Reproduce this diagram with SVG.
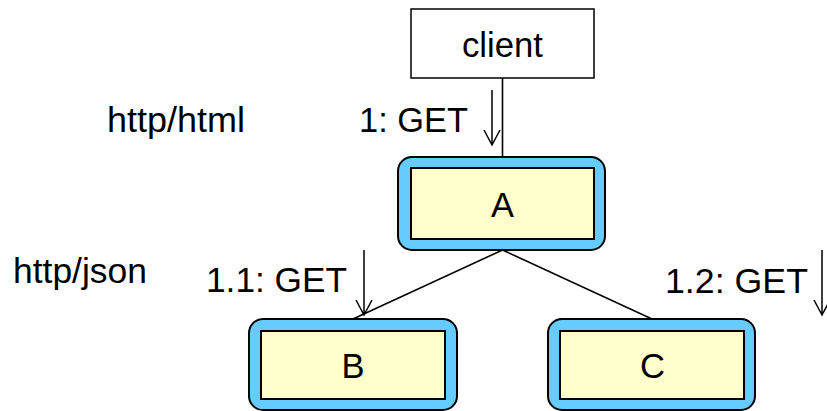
<svg xmlns="http://www.w3.org/2000/svg" width="827" height="411" viewBox="0 0 827 411">
<style>
text{font-family:"Liberation Sans",Arial,sans-serif;font-size:35px;fill:#000}
.outer{fill:#66CCFF;stroke:#000;stroke-width:2}
.inner{fill:#FFFFCC;stroke:#000;stroke-width:2}
.box{fill:#fff;stroke:#000;stroke-width:1.5}
.ln{fill:none;stroke:#000;stroke-width:1.6}
.arr{fill:none;stroke:#000;stroke-width:1.5}
</style>
<rect width="827" height="411" fill="#fff"/>
<g id="connectors">
<line class="ln" x1="502.5" y1="78" x2="502.5" y2="157"/>
<line class="ln" x1="502.5" y1="250" x2="353" y2="319"/>
<line class="ln" x1="502.5" y1="250" x2="652" y2="319"/>
</g>
<g id="messages">
<path class="arr" d="M492 90V145M484 130L492 145L500 130"/>
<path class="arr" d="M364 250V315M356 300L364 315L372 300"/>
<path class="arr" d="M822 250V315M814 300L822 315L830 300"/>
<text x="359" y="132" textLength="109" lengthAdjust="spacingAndGlyphs">1: GET</text>
<text x="206" y="292" textLength="141" lengthAdjust="spacingAndGlyphs">1.1: GET</text>
<text x="665" y="293" textLength="143" lengthAdjust="spacingAndGlyphs">1.2: GET</text>
</g>
<g id="labels">
<text x="107" y="132" textLength="138" lengthAdjust="spacingAndGlyphs">http/html</text>
<text x="13" y="283" textLength="134" lengthAdjust="spacingAndGlyphs">http/json</text>
</g>
<g id="client">
<rect class="box" x="411" y="9" width="183" height="69"/>
<text x="462" y="57" textLength="81" lengthAdjust="spacingAndGlyphs">client</text>
</g>
<g id="A">
<rect class="outer" x="398" y="157" width="207" height="93" rx="14"/>
<rect class="inner" x="411" y="168" width="183" height="71"/>
<text x="491" y="217" textLength="23" lengthAdjust="spacingAndGlyphs">A</text>
</g>
<g id="B">
<rect class="outer" x="249" y="319" width="208" height="91" rx="14"/>
<rect class="inner" x="261" y="331" width="184" height="68"/>
<text x="341.5" y="378" textLength="23" lengthAdjust="spacingAndGlyphs">B</text>
</g>
<g id="C">
<rect class="outer" x="548" y="319" width="207" height="91" rx="14"/>
<rect class="inner" x="560" y="331" width="184" height="68"/>
<text x="640" y="378" textLength="25" lengthAdjust="spacingAndGlyphs">C</text>
</g>
</svg>
